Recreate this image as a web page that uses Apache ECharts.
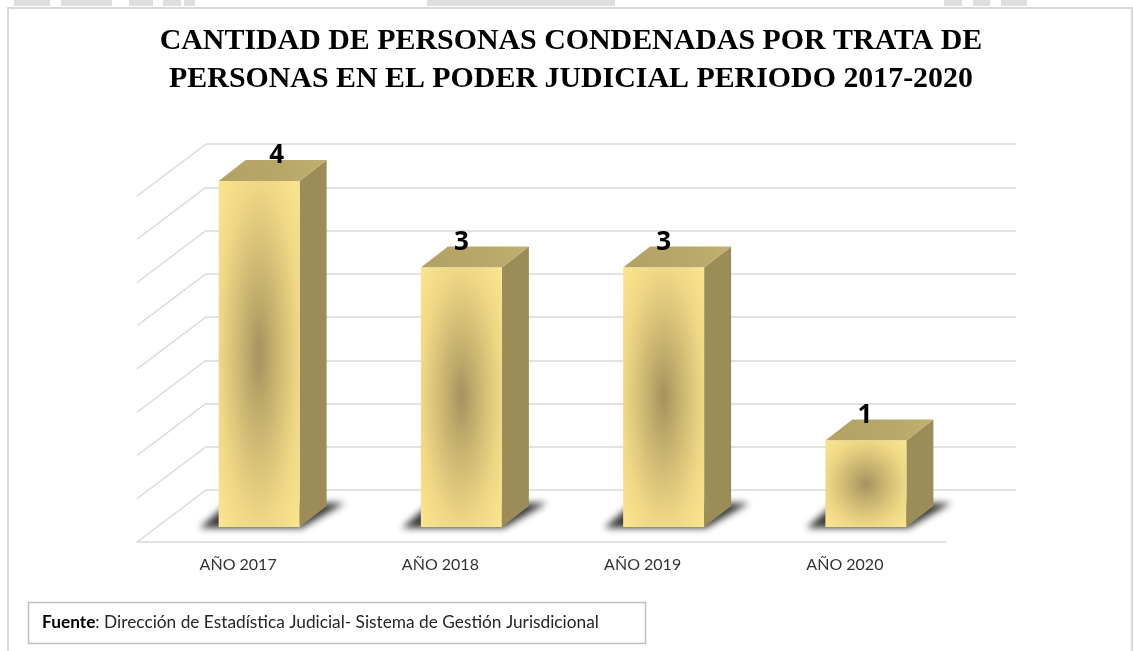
<!DOCTYPE html>
<html>
<head>
<meta charset="utf-8">
<style>
  html, body { margin: 0; padding: 0; background: #fff; }
  #chart { width: 1133px; height: 651px; }
</style>
<script src="https://cdn.jsdelivr.net/npm/echarts@6/dist/echarts.min.js"></script>
</head>
<body>
<div id="chart"></div>
<script>
var categories = ['AÑO 2017', 'AÑO 2018', 'AÑO 2019', 'AÑO 2020'];
var values = [4, 3, 3, 1];
var wallTicks = [0, 0.5, 1, 1.5, 2, 2.5, 3, 3.5, 4];

var myChart = echarts.init(document.getElementById('chart'));

// depth of the floor, from the front edge to the back wall
var floorDx = 69, floorDy = -52;
// the bar stands inside the floor
var barDx = 21, barDy = -15, barW = 81, sideDx = 27, sideDy = -21;
// the label of the first bar sits further right in the picture
var labelShift = [17.5, 0, 0, -1];
// the shadow is drawn from a shape kept off the page, so only its soft edge shows
var offPage = 3000;

function renderBar(params, api) {
  var i = api.value(0);
  var top = api.coord([i, api.value(1)]);
  var base = api.coord([i, 0]);
  var x = top[0] + barDx - barW / 2;
  var y0 = base[1] + barDy;
  var y1 = top[1] + barDy;
  var h = y0 - y1;
  return {
    type: 'group',
    children: [
      // shadow on the floor
      {
        type: 'polygon',
        x: -offPage,
        shape: { points: [[x - 19, y0 + 1], [x + barW + 2, y0 + 1], [x + barW + 45, y0 - 24], [x + 10, y0 - 24]] },
        style: { fill: '#000', shadowBlur: 7, shadowOffsetX: offPage, shadowColor: 'rgba(45,45,45,0.95)' }
      },
      {
        type: 'polygon',
        shape: { points: [[x + barW, y0], [x + barW + sideDx, y0 + sideDy], [x + barW + sideDx, y1 + sideDy], [x + barW, y1]] },
        style: { fill: '#9b8c58' }
      },
      {
        type: 'polygon',
        shape: { points: [[x, y1], [x + sideDx, y1 + sideDy], [x + barW + sideDx, y1 + sideDy], [x + barW, y1]] },
        style: {
          fill: {
            type: 'linear', x: 0, y: 1, x2: 1, y2: 0,
            colorStops: [{ offset: 0, color: '#b3a263' }, { offset: 0.6, color: '#b8a768' }, { offset: 1, color: '#c2b070' }]
          }
        }
      },
      // square rect stretched to the bar height, so the dark spot turns into an ellipse
      {
        type: 'rect',
        x: x,
        y: y1,
        scaleY: h / barW,
        shape: { x: 0, y: 0, width: barW, height: barW },
        style: {
          fill: {
            type: 'radial', x: 0.5, y: 0.5, r: 0.72,
            colorStops: [
              { offset: 0, color: '#a5925e' },
              { offset: 0.2, color: '#bda96a' },
              { offset: 0.45, color: '#d9c379' },
              { offset: 0.7, color: '#f0d986' },
              { offset: 1, color: '#fde68f' }
            ]
          }
        }
      },
      {
        type: 'text',
        x: top[0] + barDx + labelShift[i],
        y: y1 + sideDy - 4,
        style: {
          text: String(api.value(1)),
          font: 'bold 26px "Open Sans", sans-serif',
          fill: '#000',
          align: 'center',
          verticalAlign: 'middle'
        }
      }
    ]
  };
}

function renderSideLine(params, api) {
  var p = api.coord([0, api.value(0)]);
  var left = params.coordSys.x;
  return {
    type: 'line',
    shape: { x1: left, y1: p[1], x2: left + floorDx, y2: p[1] + floorDy },
    style: { stroke: '#d9d9d9', lineWidth: 1.5 }
  };
}

var topPatches = [[14, 36], [61, 51], [129, 24], [163, 18], [184, 11], [427, 188], [944, 18], [973, 17], [1001, 26]];

var option = {
  backgroundColor: '#fff',
  animation: false,
  title: {
    text: 'CANTIDAD DE PERSONAS CONDENADAS POR TRATA DE\nPERSONAS EN EL PODER JUDICIAL PERIODO 2017-2020',
    left: 566,
    top: 17,
    textAlign: 'center',
    textStyle: {
      fontFamily: '"Liberation Serif", serif',
      fontWeight: 'bold',
      fontSize: 29.9,
      lineHeight: 38,
      color: '#000'
    }
  },
  grid: [
    { left: 137, top: 196, width: 809, height: 346 },
    { left: 206, top: 144, width: 810, height: 346 }
  ],
  xAxis: [
    {
      type: 'category',
      gridIndex: 0,
      data: categories,
      axisLine: { lineStyle: { color: '#d9d9d9', width: 1.5 } },
      axisTick: { show: false },
      axisLabel: { color: '#333', fontFamily: 'Lato, sans-serif', fontSize: 16, margin: 15 }
    },
    { type: 'category', gridIndex: 1, data: categories, show: false }
  ],
  yAxis: [
    { type: 'value', gridIndex: 0, min: 0, max: 4, interval: 0.5, show: false },
    {
      type: 'value',
      gridIndex: 1,
      min: 0,
      max: 4,
      interval: 0.5,
      axisLine: { show: false },
      axisTick: { show: false },
      axisLabel: { show: false },
      splitLine: { lineStyle: { color: '#d9d9d9', width: 1.5 } }
    }
  ],
  series: [
    {
      type: 'custom',
      xAxisIndex: 0,
      yAxisIndex: 0,
      clip: false,
      silent: true,
      renderItem: renderSideLine,
      encode: { y: 0 },
      data: wallTicks.map(function (t) { return [t]; })
    },
    {
      type: 'custom',
      xAxisIndex: 0,
      yAxisIndex: 0,
      clip: false,
      renderItem: renderBar,
      encode: { x: 0, y: 1 },
      data: values.map(function (v, i) { return [i, v]; })
    }
  ],
  graphic: [
    // frame of the slide
    {
      type: 'polyline',
      shape: { points: [[8, 651], [8, 8], [1132, 8], [1132, 651]] },
      style: { fill: 'none', stroke: '#d9d9d9', lineWidth: 2 }
    },
    // source box
    {
      type: 'rect',
      shape: { x: 28.5, y: 602.5, width: 617, height: 41 },
      style: { fill: '#fff', stroke: '#bfbfbf', lineWidth: 1.5 }
    },
    {
      type: 'text',
      x: 42,
      y: 622,
      style: {
        text: '{b|Fuente}{n|: Dirección de Estadística Judicial- Sistema de Gestión Jurisdicional}',
        verticalAlign: 'middle',
        rich: {
          b: { fontFamily: 'Lato, sans-serif', fontWeight: 'bold', fontSize: 17.3, fill: '#000' },
          n: { fontFamily: 'Lato, sans-serif', fontSize: 17.3, fill: '#262626' }
        }
      }
    }
  ].concat(topPatches.map(function (p) {
    return { type: 'rect', shape: { x: p[0], y: 0, width: p[1], height: 6 }, style: { fill: '#dedede' } };
  }))
};

myChart.setOption(option);
</script>
</body>
</html>
